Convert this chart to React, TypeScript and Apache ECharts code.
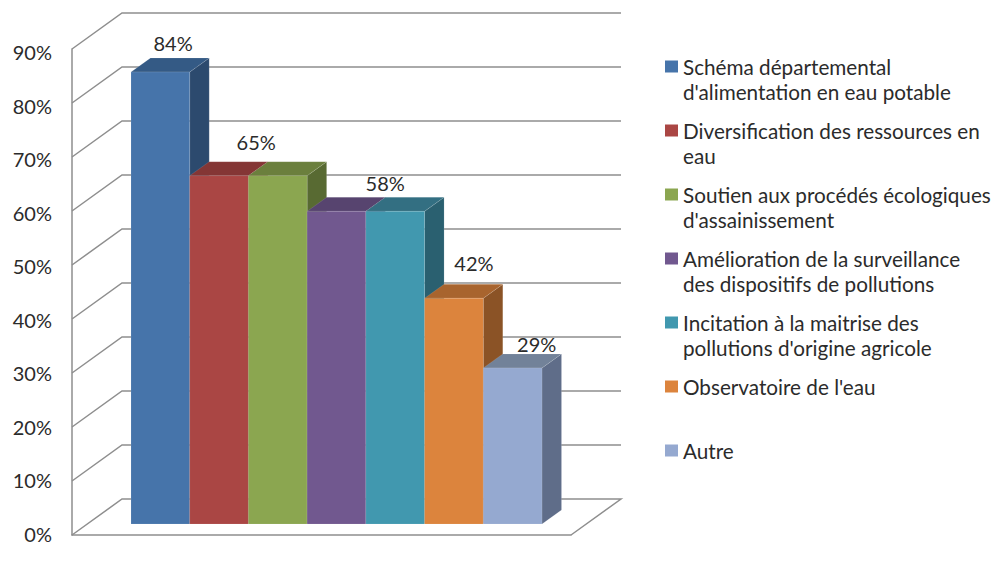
import React, { useEffect, useRef } from "react";
import * as echarts from "echarts";

const seriesNames = [
  "Schéma départemental\nd'alimentation en eau potable",
  "Diversification des ressources en\neau",
  "Soutien aux procédés écologiques\nd'assainissement",
  "Amélioration de la surveillance\ndes dispositifs de pollutions",
  "Incitation à la maitrise des\npollutions d'origine agricole",
  "Observatoire de l'eau",
  "Autre",
];
const barValues = [83.7, 64.5, 64.5, 57.9, 57.9, 41.8, 28.9];
const tickValues = [0, 10, 20, 30, 40, 50, 60, 70, 80, 90];

const frontColors = ["#4674AA", "#AA4644", "#8BA650", "#71588F", "#4198AF", "#DC843D", "#95A9D0"];
const topColors = ["#345A85", "#843635", "#6B7F3D", "#57446F", "#336F82", "#A8642E", "#728299"];
const sideColors = ["#2C4A6E", "#6F2D2C", "#586A32", "#493A5D", "#2A6070", "#8B5326", "#5F6D89"];

// Offsets of the value labels from the top-centre of the front face (null: no label)
const labelDx = [12.7, null, -21.6, null, -10, 20, 24];
const labelDy = [-29, null, -33.7, null, -28, -35, -24];

const BAR_DEPTH_X = 19.5;
const BAR_DEPTH_Y = 14;
const WALL_DEPTH_X = 50;
const WALL_DEPTH_Y = 36;
const GRID_COLOR = "#8E8E8E";
const FONT = "Lato";
const TEXT_COLOR = "#2B2B2B";

function legendLabel(name: string) {
  const lines = name.split("\n");
  return ["\u00a0", lines[0], lines[1] || "\u00a0"].join("\n");
}

function renderWall(_: any, api: any) {
  const v = api.value(0);
  const left = api.coord([0, v]);
  const right = api.coord([1, v]);
  const points = [
    left,
    [left[0] + WALL_DEPTH_X, left[1] - WALL_DEPTH_Y],
    [right[0] + WALL_DEPTH_X, right[1] - WALL_DEPTH_Y],
  ];
  if (v === 0) points.push(right);
  return {
    type: "polyline",
    shape: { points },
    style: { stroke: GRID_COLOR, lineWidth: 1.5, fill: "none" },
  };
}

function renderBar(params: any, api: any) {
  const i = params.seriesIndex - 1;
  const cat = api.value(0);
  const val = api.value(1);
  const [cx, yTop] = api.coord([cat, val]);
  const [, yBase] = api.coord([cat, 0]);
  const w = api.size([1, 0])[0];
  const x0 = cx - w / 2;
  const x1 = cx + w / 2;
  const edge = { stroke: "rgba(255,255,255,0.18)", lineWidth: 0.6 };
  const children: any[] = [
    {
      type: "polygon",
      shape: {
        points: [
          [x1, yTop],
          [x1 + BAR_DEPTH_X, yTop - BAR_DEPTH_Y],
          [x1 + BAR_DEPTH_X, yBase - BAR_DEPTH_Y],
          [x1, yBase],
        ],
      },
      style: { fill: sideColors[i], ...edge },
    },
    {
      type: "polygon",
      shape: {
        points: [
          [x0, yTop],
          [x1, yTop],
          [x1 + BAR_DEPTH_X, yTop - BAR_DEPTH_Y],
          [x0 + BAR_DEPTH_X, yTop - BAR_DEPTH_Y],
        ],
      },
      style: { fill: topColors[i], ...edge },
    },
    {
      type: "rect",
      shape: { x: x0, y: yTop, width: w, height: yBase - yTop },
      style: { fill: frontColors[i], ...edge },
    },
  ];
  if (labelDx[i] !== null) {
    children.push({
      type: "text",
      x: cx + (labelDx[i] as number),
      y: yTop + (labelDy[i] as number),
      style: {
        text: Math.round(val) + "%",
        fill: TEXT_COLOR,
        font: `20px ${FONT}`,
        align: "center",
        verticalAlign: "middle",
      },
    });
  }
  return { type: "group", children };
}

export default function App() {
  const ref = useRef<HTMLDivElement>(null);
  useEffect(() => {
    const chart = echarts.init(ref.current!, null, { renderer: "svg" });
    chart.setOption({
      animation: false,
      backgroundColor: "#fff",
      grid: [
        { left: 72, top: 49, width: 499, height: 486 },
        { left: 131, top: 38, width: 411, height: 486 },
        { left: 72, top: 52, width: 499, height: 482 },
      ],
      xAxis: [
        {
          gridIndex: 0,
          type: "value",
          min: 0,
          max: 1,
          axisLabel: { show: false },
          axisTick: { show: false },
          splitLine: { show: false },
          axisLine: { show: true, lineStyle: { color: GRID_COLOR, width: 1.5 } },
        },
        { gridIndex: 1, type: "category", data: seriesNames, show: false },
        { gridIndex: 2, type: "value", min: 0, max: 1, show: false },
      ],
      yAxis: [
        {
          gridIndex: 0,
          type: "value",
          min: 0,
          max: 90,
          interval: 10,
          axisLabel: { show: false },
          axisTick: { show: false },
          splitLine: { show: false },
          axisLine: { show: true, lineStyle: { color: GRID_COLOR, width: 1.5 } },
        },
        { gridIndex: 1, type: "value", min: 0, max: 90, interval: 10, show: false },
        {
          gridIndex: 2,
          type: "value",
          min: 0,
          max: 90,
          interval: 10,
          axisLabel: {
            formatter: "{value}%",
            color: TEXT_COLOR,
            fontFamily: FONT,
            fontSize: 20,
            margin: 20,
          },
          axisTick: { show: false },
          splitLine: { show: false },
          axisLine: { show: false },
        },
      ],
      legend: {
        orient: "vertical",
        left: 665,
        top: 29,
        padding: 0,
        itemWidth: 13,
        itemHeight: 12,
        itemGap: -11,
        icon: "rect",
        selectedMode: false,
        data: seriesNames,
        formatter: legendLabel,
        textStyle: {
          color: TEXT_COLOR,
          fontFamily: FONT,
          fontSize: 20.7,
          lineHeight: 25,
          padding: [0, 0, 0, 0],
        },
      },
      series: [
        {
          type: "custom",
          name: "grille",
          xAxisIndex: 0,
          yAxisIndex: 0,
          renderItem: renderWall,
          data: tickValues.map((v) => [v]),
          encode: { y: 0 },
          silent: true,
        },
        ...seriesNames.map((name, i) => ({
          type: "custom",
          name,
          xAxisIndex: 1,
          yAxisIndex: 1,
          itemStyle: { color: frontColors[i] },
          renderItem: renderBar,
          data: [[i, barValues[i]]],
          encode: { x: 0, y: 1 },
        })),
      ],
    });
    return () => chart.dispose();
  }, []);
  return (
    <div
      ref={ref}
      style={{ position: "absolute", left: 0, top: 0, width: 995, height: 562 }}
    />
  );
}
